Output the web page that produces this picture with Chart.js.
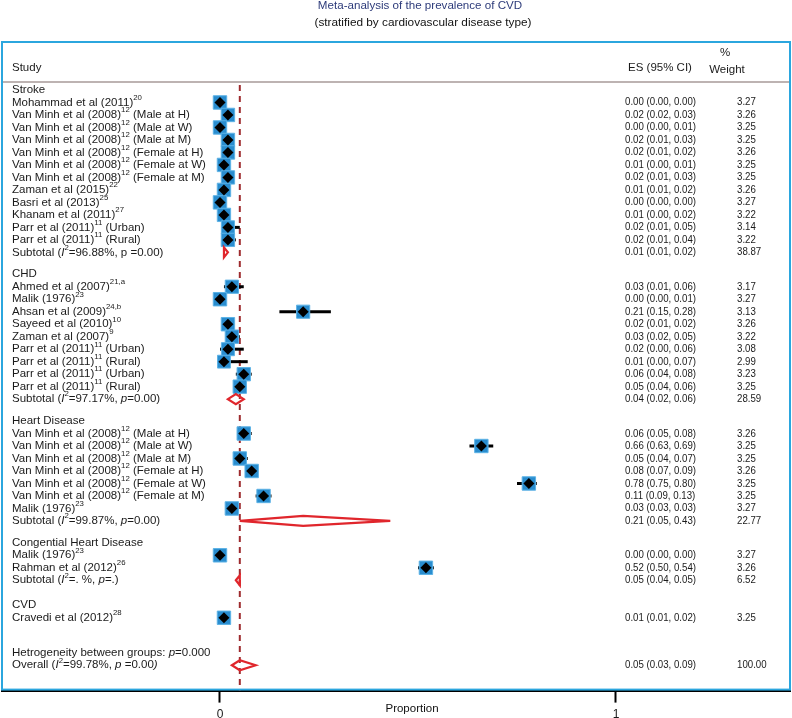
<!DOCTYPE html>
<html>
<head>
<meta charset="utf-8">
<script src="https://cdn.jsdelivr.net/npm/chart.js@4.4.1/dist/chart.umd.min.js"></script>
<style>
  body { margin: 0; background: #fff; }
  #wrap { width: 792px; height: 718px; }
</style>
</head>
<body>
<div id="wrap"><canvas id="forestChart"></canvas></div>
<script>
// ---- data ----
var groups = ["Stroke", "CHD", "Heart Disease", "Congential Heart Disease", "CVD"];
var studyGroup = [0,0,0,0,0,0,0,0,0,0,0,0, 1,1,1,1,1,1,1,1,1, 2,2,2,2,2,2,2, 3,3, 4];
var studies = [
  "Mohammad et al (2011)^{20}",
  "Van Minh et al (2008)^{12} (Male at H)",
  "Van Minh et al (2008)^{12} (Male at W)",
  "Van Minh et al (2008)^{12} (Male at M)",
  "Van Minh et al (2008)^{12} (Female at H)",
  "Van Minh et al (2008)^{12} (Female at W)",
  "Van Minh et al (2008)^{12} (Female at M)",
  "Zaman et al (2015)^{22}",
  "Basri et al (2013)^{25}",
  "Khanam et al (2011)^{27}",
  "Parr et al (2011)^{11} (Urban)",
  "Parr et al (2011)^{11} (Rural)",
  "Ahmed et al (2007)^{21,a}",
  "Malik (1976)^{23}",
  "Ahsan et al (2009)^{24,b}",
  "Sayeed et al (2010)^{10}",
  "Zaman et al (2007)^{9}",
  "Parr et al (2011)^{11} (Urban)",
  "Parr et al (2011)^{11} (Rural)",
  "Parr et al (2011)^{11} (Urban)",
  "Parr et al (2011)^{11} (Rural)",
  "Van Minh et al (2008)^{12} (Male at H)",
  "Van Minh et al (2008)^{12} (Male at W)",
  "Van Minh et al (2008)^{12} (Male at M)",
  "Van Minh et al (2008)^{12} (Female at H)",
  "Van Minh et al (2008)^{12} (Female at W)",
  "Van Minh et al (2008)^{12} (Female at M)",
  "Malik (1976)^{23}",
  "Malik (1976)^{23}",
  "Rahman et al (2012)^{26}",
  "Cravedi et al (2012)^{28}"
];
var es    = [0.00,0.02,0.00,0.02,0.02,0.01,0.02,0.01,0.00,0.01,0.02,0.02, 0.03,0.00,0.21,0.02,0.03,0.02,0.01,0.06,0.05, 0.06,0.66,0.05,0.08,0.78,0.11,0.03, 0.00,0.52, 0.01];
var lower = [0.00,0.02,0.00,0.01,0.01,0.00,0.01,0.01,0.00,0.00,0.01,0.01, 0.01,0.00,0.15,0.01,0.02,0.00,0.00,0.04,0.04, 0.05,0.63,0.04,0.07,0.75,0.09,0.03, 0.00,0.50, 0.01];
var upper = [0.00,0.03,0.01,0.03,0.02,0.01,0.03,0.02,0.00,0.02,0.05,0.04, 0.06,0.01,0.28,0.02,0.05,0.06,0.07,0.08,0.06, 0.08,0.69,0.07,0.09,0.80,0.13,0.03, 0.00,0.54, 0.02];
var weight = [3.27,3.26,3.25,3.25,3.26,3.25,3.25,3.26,3.27,3.22,3.14,3.22, 3.17,3.27,3.13,3.26,3.22,3.08,2.99,3.23,3.25, 3.26,3.25,3.25,3.26,3.25,3.25,3.27, 3.27,3.26, 3.25];

var subLabels = ["Subtotal (*I*^{2}=96.88%, p =0.00)", "Subtotal (*I*^{2}=97.17%, *p*=0.00)",
                 "Subtotal (*I*^{2}=99.87%, *p*=0.00)", "Subtotal (*I*^{2}=. %, *p*=.)", null];
var subEs     = [0.01, 0.04, 0.21, 0.05, null];
var subLower  = [0.01, 0.02, 0.05, 0.04, null];
var subUpper  = [0.02, 0.06, 0.43, 0.05, null];
var subWeight = [38.87, 28.59, 22.77, 6.52, null];

var hetLabel = "Hetrogeneity between groups: *p*=0.000";
var overallLabel = "Overall (*I*^{2}=99.78%, *p* =0.00*)*";
var overallEs = 0.05, overallLower = 0.03, overallUpper = 0.09, overallWeight = 100.00;

var xTicks = [0, 1];

// ---- row layout (row units) ----
var rows = [];   // {y, kind, text, i}
(function() {
  var y = 0;
  groups.forEach(function(g, gi) {
    if (gi > 0) y += (gi === 4 ? 2.0 : 1.75);
    rows.push({ y: y, kind: "group", text: g });
    studies.forEach(function(s, i) {
      if (studyGroup[i] !== gi) return;
      y += 1;
      rows.push({ y: y, kind: "study", text: s, i: i });
    });
    if (subLabels[gi]) {
      y += 1;
      rows.push({ y: y, kind: "sub", text: subLabels[gi], i: gi });
    }
  });
  y += 2.8;
  rows.push({ y: y, kind: "het", text: hetLabel });
  y += 1;
  rows.push({ y: y, kind: "overall", text: overallLabel });
})();

function fmt(v) { return v.toFixed(2); }
function esText(e, l, u) { return fmt(e) + " (" + fmt(l) + ", " + fmt(u) + ")"; }

// draw label with ^{sup} and *italic* markup
function richText(ctx, str, x, y, size) {
  var parts = str.split(/(\^\{[^}]*\}|\*)/);
  var italic = false;
  ctx.textAlign = "left";
  ctx.textBaseline = "middle";
  parts.forEach(function(p) {
    if (p === "") return;
    if (p === "*") { italic = !italic; return; }
    var sup = p.charAt(0) === "^";
    var t = sup ? p.slice(2, -1) : p;
    var fs = sup ? size * 0.68 : size;
    ctx.font = (italic ? "italic " : "") + fs + "px 'Liberation Sans', Arial, sans-serif";
    ctx.fillText(t, x, sup ? y - size * 0.42 : y);
    x += ctx.measureText(t).width;
  });
}

function narrowText(ctx, t, x, y, size, sx) {
  ctx.save();
  ctx.font = size + "px 'Liberation Sans', Arial, sans-serif";
  ctx.textAlign = "left";
  ctx.textBaseline = "middle";
  ctx.translate(x, y);
  ctx.scale(sx, 1);
  ctx.fillText(t, 0, 0);
  ctx.restore();
}

var forestPlugin = {
  id: "forest",
  beforeDatasetsDraw: function(chart) {
    var ctx = chart.ctx, xs = chart.scales.x, ys = chart.scales.y, a = chart.chartArea;
    ctx.save();
    // header rule
    var hy = ys.getPixelForValue(-0.64);
    ctx.strokeStyle = "#a79a98";
    ctx.lineWidth = 1.5;
    ctx.beginPath(); ctx.moveTo(a.left, hy); ctx.lineTo(a.right, hy); ctx.stroke();
    // overall line
    var ox = xs.getPixelForValue(overallEs);
    ctx.strokeStyle = "#9e2b2e";
    ctx.lineWidth = 2;
    ctx.setLineDash([6, 5]);
    ctx.beginPath(); ctx.moveTo(ox, hy + 3); ctx.lineTo(ox, a.bottom); ctx.stroke();
    ctx.setLineDash([]);
    // confidence intervals
    ctx.strokeStyle = "#000";
    ctx.lineWidth = 3;
    rows.forEach(function(r) {
      if (r.kind !== "study") return;
      var py = ys.getPixelForValue(r.y);
      ctx.beginPath();
      ctx.moveTo(xs.getPixelForValue(lower[r.i]), py);
      ctx.lineTo(xs.getPixelForValue(upper[r.i]), py);
      ctx.stroke();
    });
    ctx.restore();
  },
  afterDatasetsDraw: function(chart) {
    var ctx = chart.ctx, xs = chart.scales.x, ys = chart.scales.y, a = chart.chartArea;
    ctx.save();
    // pooled diamonds
    function diamond(e, l, u, y) {
      var py = ys.getPixelForValue(y);
      var xl = xs.getPixelForValue(l), xu = xs.getPixelForValue(u), xe = xs.getPixelForValue(e);
      if (xu - xl < 3) { var c = (xl + xu) / 2; xl = c - 1.5; xu = c + 1.5; xe = c; }
      ctx.beginPath();
      ctx.moveTo(xl, py); ctx.lineTo(xe, py - 5); ctx.lineTo(xu, py); ctx.lineTo(xe, py + 5);
      ctx.closePath();
      ctx.stroke();
    }
    ctx.strokeStyle = "#e0262c";
    ctx.lineWidth = 2.2;
    rows.forEach(function(r) {
      if (r.kind === "sub") diamond(subEs[r.i], subLower[r.i], subUpper[r.i], r.y);
      if (r.kind === "overall") diamond(overallEs, overallLower, overallUpper, r.y);
    });

    // text columns
    ctx.fillStyle = "#1a1a1a";
    rows.forEach(function(r) {
      var py = ys.getPixelForValue(r.y);
      richText(ctx, r.text, 12, py, 11.5);
      var t = null, w = null;
      if (r.kind === "study") { t = esText(es[r.i], lower[r.i], upper[r.i]); w = weight[r.i]; }
      if (r.kind === "sub") { t = esText(subEs[r.i], subLower[r.i], subUpper[r.i]); w = subWeight[r.i]; }
      if (r.kind === "overall") { t = esText(overallEs, overallLower, overallUpper); w = overallWeight; }
      if (t) {
        narrowText(ctx, t, 625, py, 11, 0.88);
        narrowText(ctx, w.toFixed(2), 737, py, 11, 0.88);
      }
    });

    // headers
    var hy = ys.getPixelForValue(-1.76);
    richText(ctx, "Study", 12, hy, 11.5);
    ctx.font = "11.5px 'Liberation Sans', Arial, sans-serif";
    ctx.textAlign = "center";
    ctx.fillText("ES (95% CI)", 660, hy);
    ctx.fillText("%", 725, ys.getPixelForValue(-3.0));
    ctx.fillText("Weight", 727, ys.getPixelForValue(-1.6));

    // frame
    ctx.strokeStyle = "#2ba6de";
    ctx.lineWidth = 2;
    ctx.strokeRect(a.left, a.top, a.right - a.left, a.bottom - a.top - 1);

    // titles
    ctx.textAlign = "center";
    ctx.textBaseline = "middle";
    ctx.font = "11.6px 'Liberation Sans', Arial, sans-serif";
    ctx.fillStyle = "#2d3b7a";
    ctx.fillText("Meta-analysis of the prevalence of CVD", 420, 6);
    ctx.fillStyle = "#111";
    ctx.font = "11.8px 'Liberation Sans', Arial, sans-serif";
    ctx.fillText("(stratified by cardiovascular disease type)", 423, 23);
    ctx.font = "11.5px 'Liberation Sans', Arial, sans-serif";
    ctx.fillText("Proportion", 412, 709);
    ctx.restore();
  }
};

var studyRows = rows.filter(function(r) { return r.kind === "study"; });

new Chart("forestChart", {
  type: "scatter",
  data: {
    datasets: [{
      label: "estimates",
      order: 1,
      data: studyRows.map(function(r) { return { x: es[r.i], y: r.y }; }),
      pointStyle: "rectRot",
      pointRadius: 5.5,
      backgroundColor: "#000",
      borderColor: "#000",
      borderWidth: 0
    }, {
      label: "boxes",
      order: 2,
      data: studyRows.map(function(r) { return { x: es[r.i], y: r.y }; }),
      pointStyle: "rect",
      pointRadius: studyRows.map(function(r) { return 9.5 * Math.sqrt(weight[r.i] / 3.27); }),
      backgroundColor: "#2a8dcf",
      borderColor: "#5db3e6",
      borderWidth: 1
    }]
  },
  options: {
    responsive: true,
    maintainAspectRatio: false,
    animation: false,
    layout: { autoPadding: false, padding: { top: 42, left: 2, right: 2, bottom: -9 } },
    plugins: { legend: { display: false }, tooltip: { enabled: false } },
    scales: {
      x: {
        type: "linear",
        min: -0.5505,
        max: 1.4394,
        afterBuildTicks: function(axis) { axis.ticks = xTicks.map(function(v) { return { value: v }; }); },
        border: { display: true, color: "#000", width: 2 },
        grid: { drawOnChartArea: false, drawTicks: true, tickLength: 12, tickWidth: 2, color: "#000" },
        ticks: { color: "#1a1a1a", padding: 5, font: { size: 12, family: "'Liberation Sans', Arial, sans-serif" } }
      },
      y: {
        type: "linear",
        display: false,
        reverse: true,
        min: -3.84,
        max: 48.08
      }
    }
  },
  plugins: [forestPlugin]
});
</script>
</body>
</html>
